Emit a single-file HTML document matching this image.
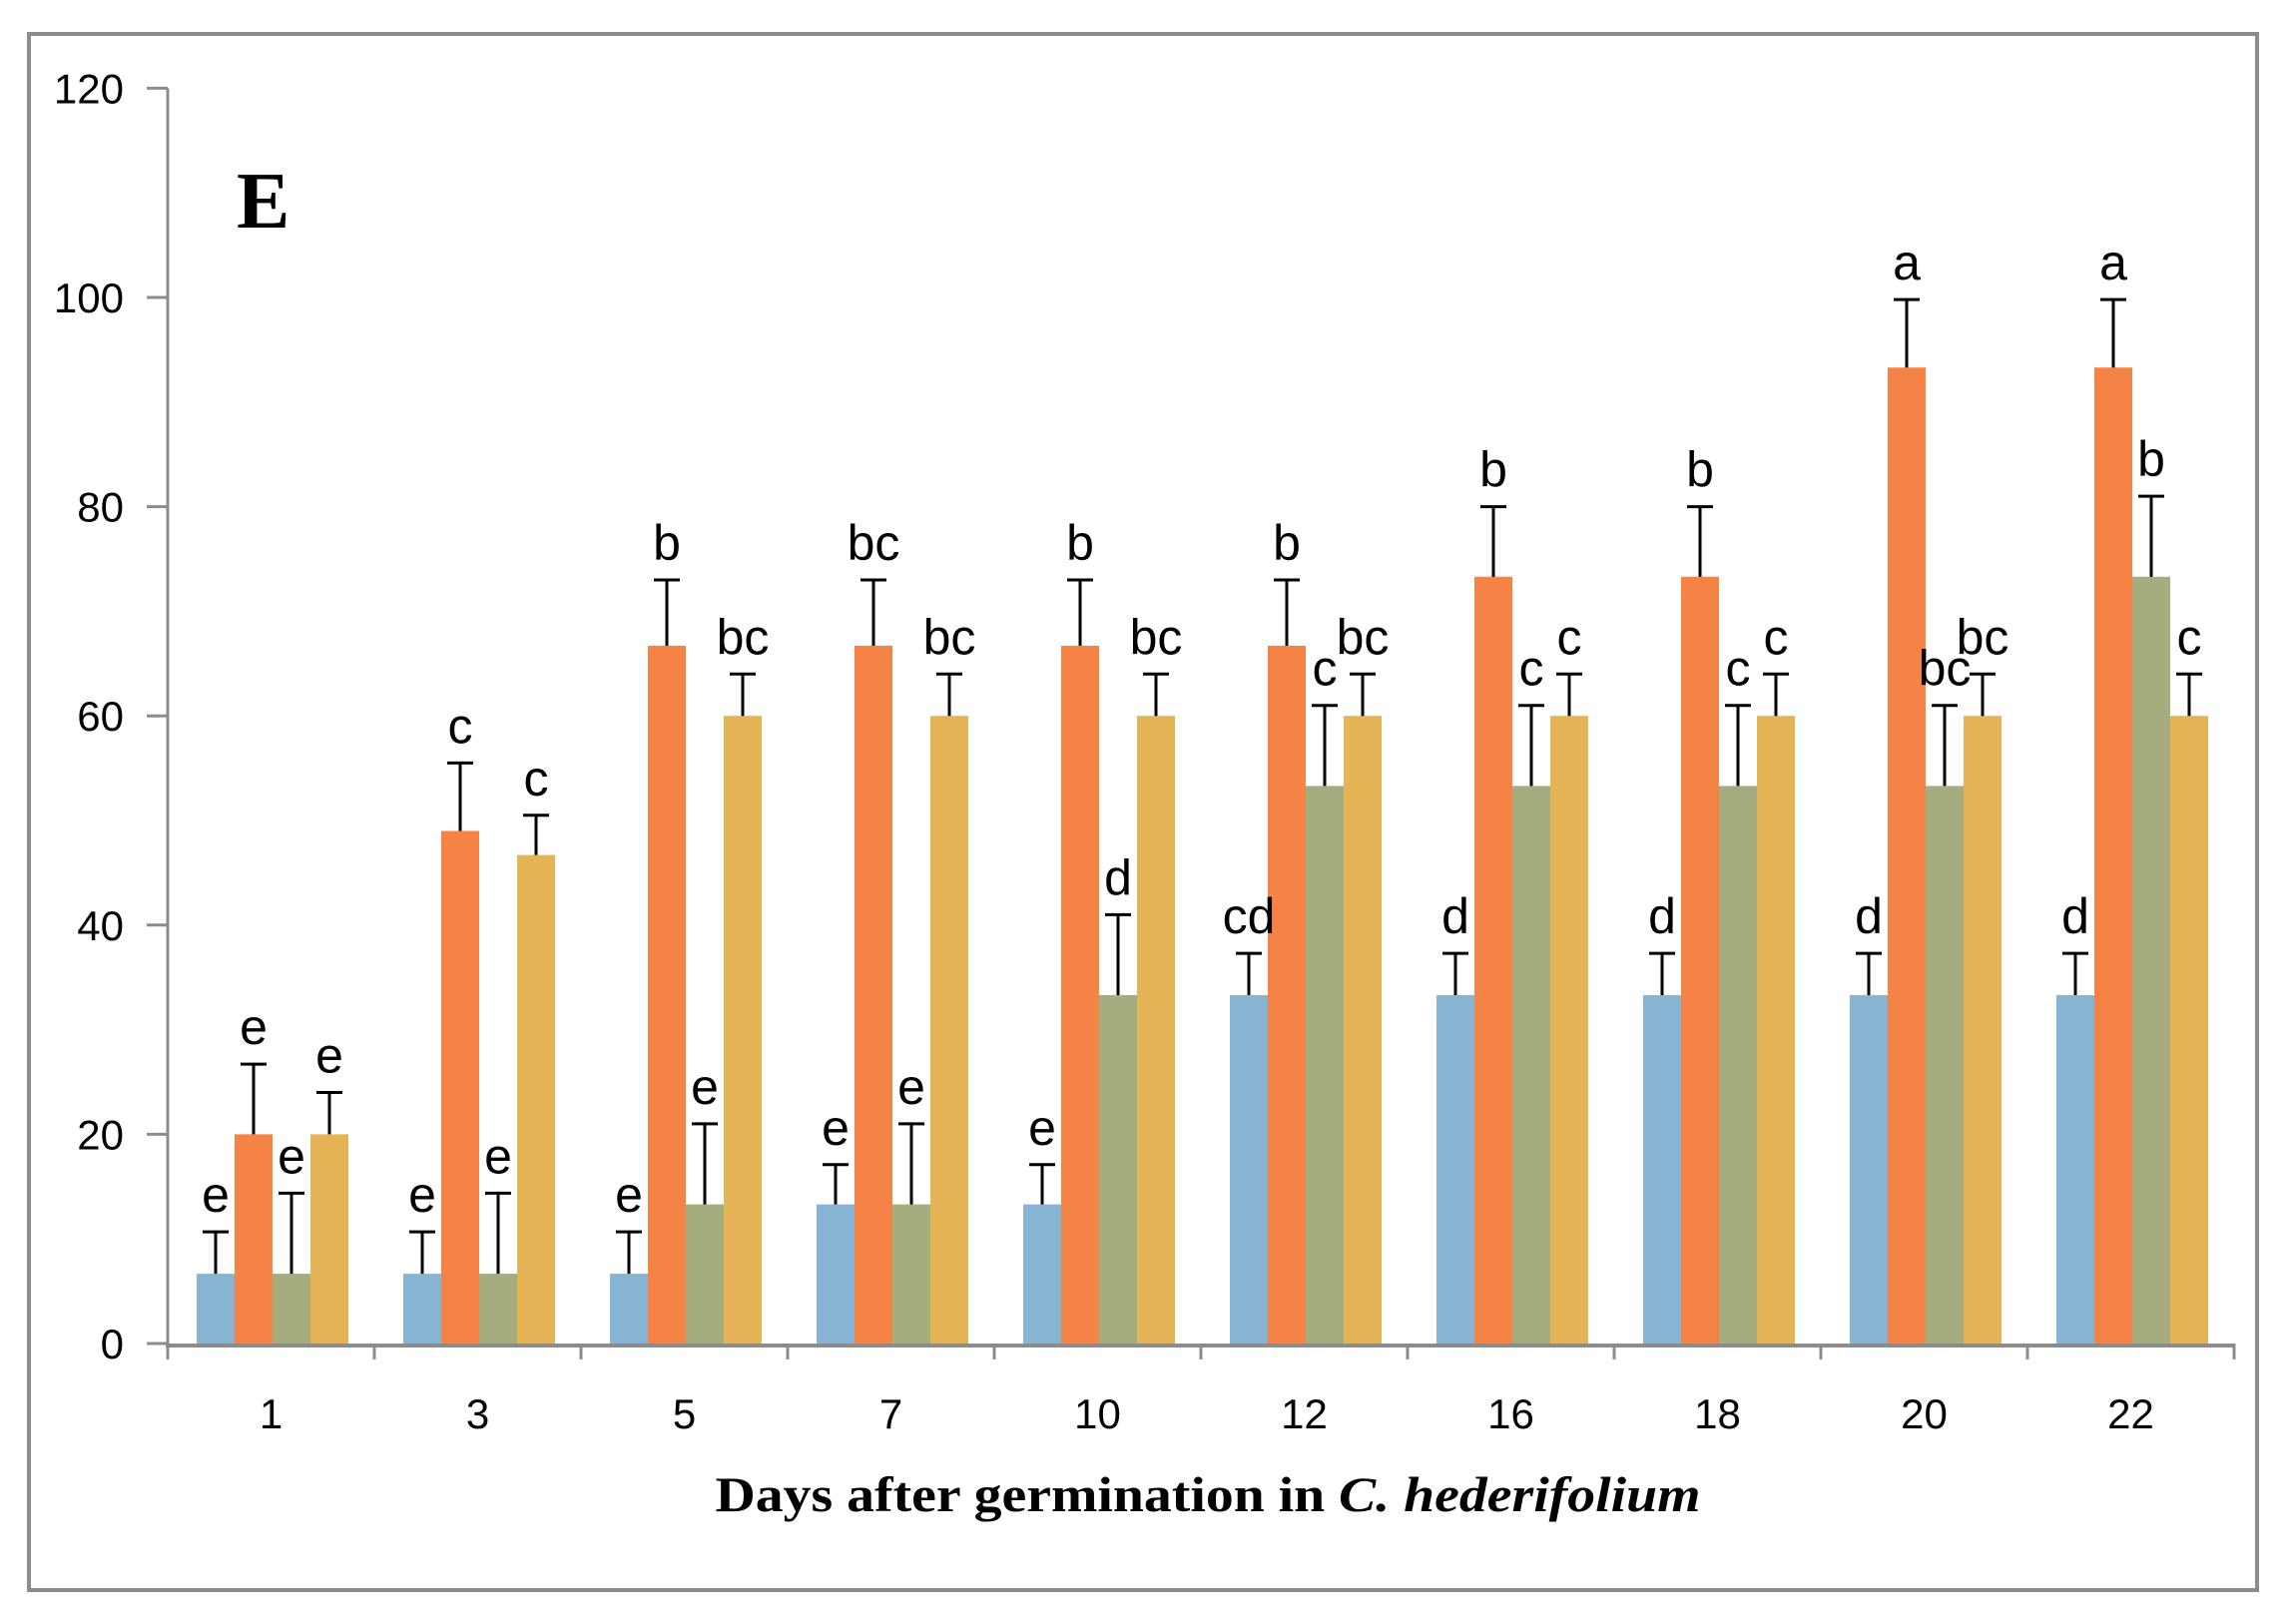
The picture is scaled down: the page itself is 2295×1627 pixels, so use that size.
<!DOCTYPE html>
<html><head><meta charset="utf-8"><style>
html,body{margin:0;padding:0;background:#fff}
svg{display:block}
</style></head><body>
<svg id="chart" width="2295" height="1627" viewBox="0 0 2295 1627" xmlns="http://www.w3.org/2000/svg">
<rect x="29" y="34" width="2232" height="1559" fill="#fff" stroke="#8c8c8c" stroke-width="4"/>
<text x="237" y="228" font-family="Liberation Serif, serif" font-weight="bold" font-size="80">E</text>
<g id="axes"></g>
<g id="bars"></g>
<g id="errs"></g>
<g id="letters"></g>
<text x="1210" y="1514" text-anchor="middle" textLength="987" lengthAdjust="spacingAndGlyphs" font-family="Liberation Serif, serif" font-weight="bold" font-size="50">Days after germination in <tspan font-style="italic">C. hederifolium</tspan></text>
</svg>
<script>
const categories = ["1","3","5","7","10","12","16","18","20","22"];
const blueVals   = [6.67,6.67,6.67,13.3,13.3,33.3,33.3,33.3,33.3,33.3];
const orangeVals = [20,49,66.7,66.7,66.7,66.7,73.3,73.3,93.3,93.3];
const greenVals  = [6.67,6.67,13.3,13.3,33.3,53.3,53.3,53.3,53.3,73.3];
const yellowVals = [20,46.7,60,60,60,60,60,60,60,60];
const blueErr    = [4,4,4,3.8,3.8,4,4,4,4,4];
const orangeErr  = [6.7,6.5,6.3,6.3,6.3,6.3,6.7,6.7,6.5,6.5];
const greenErr   = [7.7,7.7,7.7,7.7,7.7,7.7,7.7,7.7,7.7,7.7];
const yellowErr  = [4,3.8,4,4,4,4,4,4,4,4];
const blueLet    = ["e","e","e","e","e","cd","d","d","d","d"];
const orangeLet  = ["e","c","b","bc","b","b","b","b","a","a"];
const greenLet   = ["e","e","e","e","d","c","c","c","bc","b"];
const yellowLet  = ["e","c","bc","bc","bc","bc","c","c","bc","c"];
const yTicks = [0,20,40,60,80,100,120];

const NS="http://www.w3.org/2000/svg";
const X0=168, X1=2238, Y0=1346, PER=10.48;
const catW=(X1-X0)/categories.length, barW=38, off=29;
const y=v=>Y0-v*PER;
const bx=(i,s)=>X0+i*catW+off+s*barW;
function mk(tag,attrs,parent){const e=document.createElementNS(NS,tag);for(const k in attrs)e.setAttribute(k,attrs[k]);document.getElementById(parent).appendChild(e);return e;}

let a=mk('line',{x1:X0,y1:y(120),x2:X0,y2:Y0+2,stroke:'#8c8c8c','stroke-width':3},'axes');


a=mk('line',{x1:X0-2,y1:Y0+2,x2:X1,y2:Y0+2,stroke:'#8c8c8c','stroke-width':4},'axes');


yTicks.forEach(t=>{
  const l=mk('line',{x1:X0-21,y1:y(t),x2:X0,y2:y(t),stroke:'#8c8c8c','stroke-width':3},'axes');
  
  
  const tx=mk('text',{x:124,y:y(t)+15,'text-anchor':'end','font-family':'Liberation Sans, sans-serif','font-size':42},'axes');
  tx.textContent=t;
  
  
});
for(let i=0;i<=categories.length;i++){
  const l=mk('line',{x1:X0+i*catW,y1:Y0,x2:X0+i*catW,y2:1362,stroke:'#8c8c8c','stroke-width':3},'axes');
  
  
}
categories.forEach((c,i)=>{
  const tx=mk('text',{x:X0+(i+0.5)*catW,y:1431,'text-anchor':'middle','font-family':'Liberation Sans, sans-serif','font-size':42},'axes');
  tx.textContent=c;
  
  
});
const series=[
 {v:blueVals,e:blueErr,l:blueLet,c:'#87b4d3',n:'blue'},
 {v:orangeVals,e:orangeErr,l:orangeLet,c:'#f58345',n:'orange'},
 {v:greenVals,e:greenErr,l:greenLet,c:'#a5ac7d',n:'green'},
 {v:yellowVals,e:yellowErr,l:yellowLet,c:'#e5b456',n:'yellow'}];
series.forEach((s,si)=>{
  s.v.forEach((v,i)=>{
    const x=bx(i,si);
    const r=mk('rect',{x:x,y:y(v),width:barW,height:Y0-y(v),fill:s.c},'bars');
    
    
    const cx=x+barW/2, top=y(v+s.e[i]);
    const g=mk('path',{d:`M${cx},${y(v)} V${top} M${cx-13},${top} H${cx+13}`,stroke:'#000','stroke-width':3,fill:'none'},'errs');
    
    
    const t=mk('text',{x:cx,y:top-20,'text-anchor':'middle','font-family':'Liberation Sans, sans-serif','font-size':50},'letters');
    t.textContent=s.l[i];
    
    
  });
});
</script>
</body></html>
